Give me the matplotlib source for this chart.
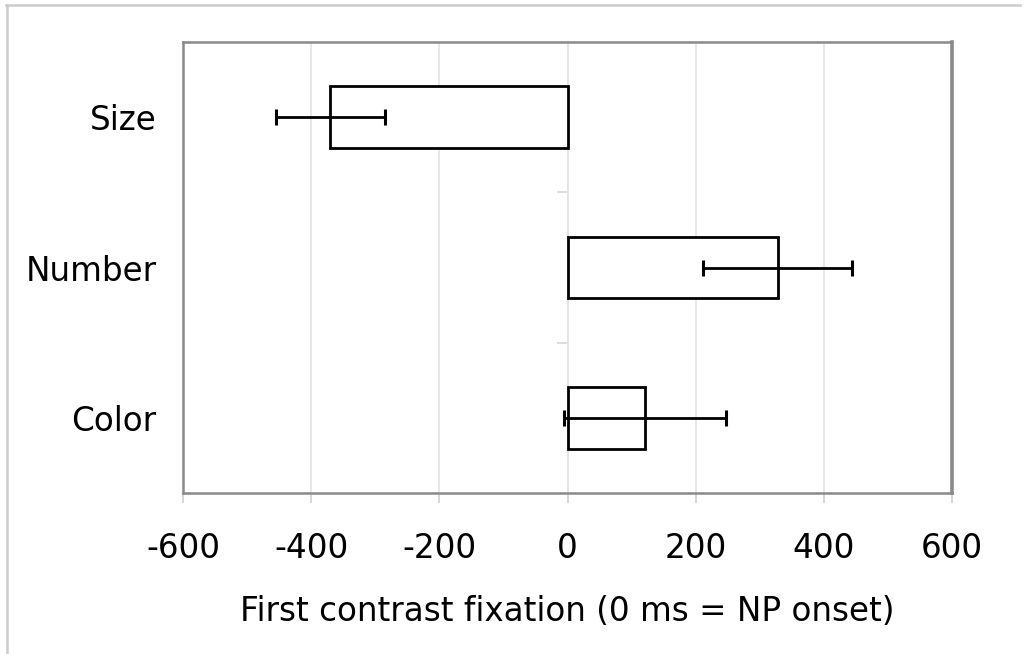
import numpy as np
import matplotlib
matplotlib.use("Agg")
import matplotlib.pyplot as plt
from matplotlib.lines import Line2D

# categories from top to bottom
categories = ["Size", "Number", "Color"]
means = [-370, 328, 121]
errors = [85, 116, 126]
xticks = [-600, -400, -200, 0, 200, 400, 600]
xlabel = "First contrast fixation (0 ms = NP onset)"

plt.rcParams['font.family'] = ['DejaVu Sans']

fig = plt.figure(figsize=(10.24, 6.54), dpi=100)
ax = fig.add_axes([183 / 1024, 1 - 493 / 654, (952 - 183) / 1024, (493 - 42) / 654])

y = np.arange(len(categories))

# light vertical gridlines
ax.set_xticks(xticks)
ax.grid(axis='x', color='#e4e4e4', lw=1.2, zorder=0)
ax.set_axisbelow(True)

# y axis crossing at 0 with ticks at category boundaries
ax.axvline(0, color='#e4e4e4', lw=1.2, zorder=0.5)
bounds = y[:-1] + 0.5
ax.plot(np.zeros(len(bounds)), bounds, ls='none', marker=0, markersize=8,
        color='#d8d8d8', mew=1.2, zorder=0.5)

ax.barh(y, means, height=0.41, color='white', edgecolor='black', lw=2, zorder=2)
ax.errorbar(means, y, xerr=errors, fmt='none', ecolor='black', elinewidth=2,
            capsize=6, capthick=2.2, zorder=3)

ax.set_xlim(-600, 600)
ax.set_ylim(len(categories) - 0.5, -0.5)
ax.set_yticks(y)
ax.set_yticklabels(categories)
ax.set_xticklabels([str(v) for v in xticks])

for s in ax.spines.values():
    s.set_color('#8a8a8a')
    s.set_linewidth(1.8)
ax.spines['right'].set_linewidth(2.6)

ax.tick_params(axis='y', length=0, pad=19, labelsize=23.5)
ax.tick_params(axis='x', length=7, width=1.2, color='#d0d0d0', pad=21, labelsize=23.5)
ax.set_xlabel(xlabel, fontsize=23.5, labelpad=22)

# outer frame (top and left)
fig.add_artist(Line2D([6 / 1024, 1020 / 1024], [1 - 4.5 / 654, 1 - 4.5 / 654],
                      color='#cccccc', lw=1.8, transform=fig.transFigure))
fig.add_artist(Line2D([7 / 1024, 7 / 1024], [1 - 4.5 / 654, 1 - 653 / 654],
                      color='#cccccc', lw=1.8, transform=fig.transFigure))

fig.savefig("out.png", dpi=100)
